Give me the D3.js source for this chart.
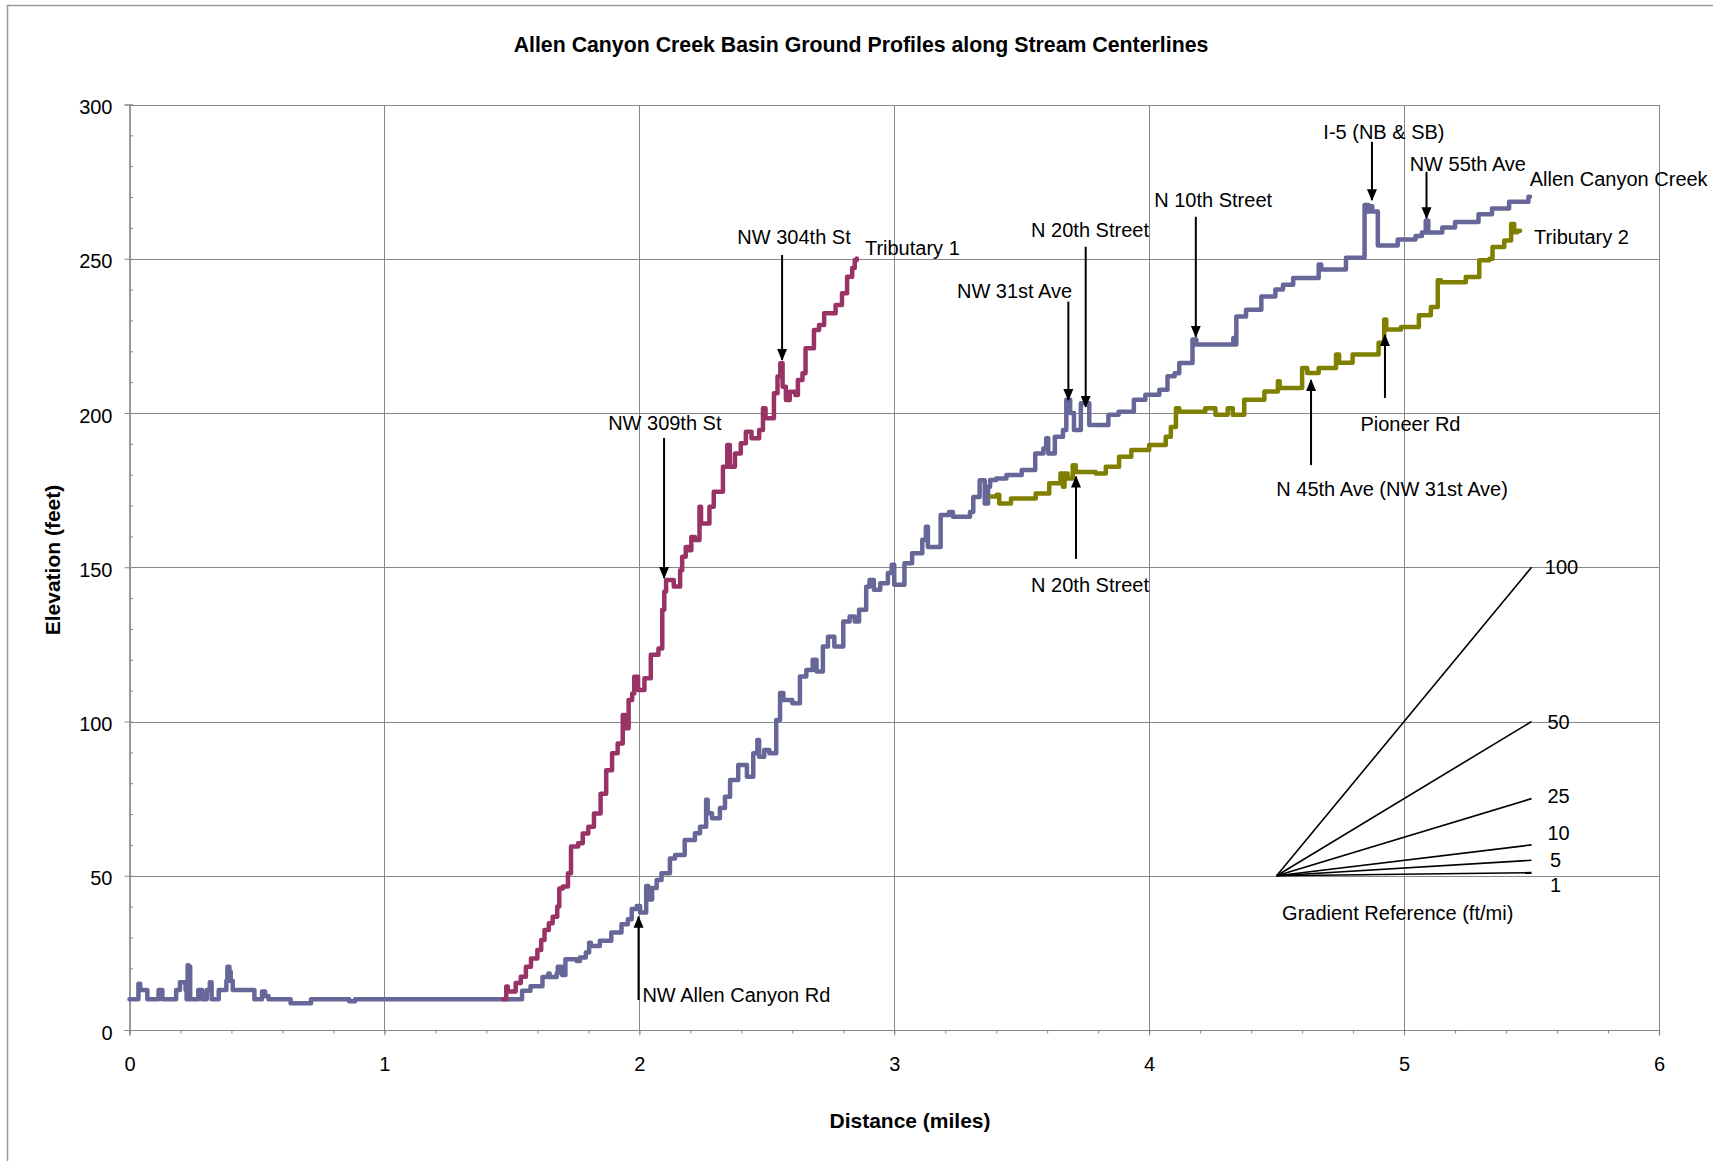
<!DOCTYPE html>
<html>
<head>
<meta charset="utf-8">
<script src="https://cdn.jsdelivr.net/npm/d3@7"></script>
<style>
  body { margin: 0; background: #fff; }
  svg { display: block; font-family: "Liberation Sans", Arial, sans-serif; }
</style>
</head>
<body>
<svg id="chart" width="1713" height="1161"></svg>
<script>
// ---- data (miles, feet); each point starts a step ----
var allenCanyon = [
  [0,10],[0.035,15],[0.042,13],[0.07,10],[0.114,13],[0.129,10],[0.183,13],[0.198,15.5],[0.22,13],[0.224,10],
  [0.228,21],[0.232,19],[0.235,20.5],[0.238,10],[0.27,13],[0.285,10],[0.303,13],[0.315,15.5],[0.322,10],
  [0.35,13],[0.38,16],[0.384,20.5],[0.392,19],[0.397,16],[0.405,13],[0.49,10],[0.52,12.5],[0.532,11],[0.545,10],
  [0.632,8.7],[0.712,10],[0.862,9.3],[0.885,10],
  [1.54,12.7],[1.573,14.2],[1.62,17.2],[1.643,18.3],[1.648,17.2],[1.676,18.3],[1.68,20.5],[1.697,17.8],[1.71,22.9],
  [1.754,22.4],[1.767,23.5],[1.79,25.1],[1.803,28.3],[1.81,27.2],[1.845,28.9],[1.89,31.6],[1.93,34.3],[1.955,35.9],
  [1.97,39.2],[1.99,40.2],[2.003,38.1],[2.027,46.7],[2.035,42.3],[2.05,46],[2.068,48.6],[2.087,50.8],[2.12,55.6],
  [2.14,56.7],[2.178,61.6],[2.218,63.8],[2.238,65.9],[2.262,74.6],[2.268,70.3],[2.285,68.6],[2.316,72],[2.336,75.6],
  [2.356,81],[2.388,85.9],[2.422,82.1],[2.447,89.7],[2.463,94],[2.47,88.6],[2.49,90.8],[2.51,89.7],[2.537,100.5],
  [2.552,109.2],[2.565,107],[2.6,105.9],[2.63,114.6],[2.655,116.7],[2.68,120],[2.695,116.2],[2.72,124.3],[2.74,127.5],
  [2.765,124.3],[2.8,132.4],[2.825,134],[2.845,132.4],[2.862,136.2],[2.89,143.7],[2.903,145.9],[2.92,142.7],
  [2.945,144.8],[2.975,148.1],[2.99,150.8],[3.0,144.3],[3.04,151.3],[3.07,154.5],[3.11,158.9],[3.124,163.1],
  [3.132,156.6],[3.182,166.9],[3.215,167.9],[3.23,166.4],[3.297,167.9],[3.31,172.8],[3.335,178.2],[3.355,170.7],
  [3.368,176.1],[3.376,178.3],[3.4,178.8],[3.44,179.9],[3.5,181.5],[3.553,186.9],[3.585,188.5],[3.596,191.8],
  [3.604,186.9],[3.63,192.3],[3.662,194.5],[3.675,204.3],[3.69,200],[3.705,194.5],[3.732,203.2],[3.765,196.1],
  [3.84,199.4],[3.88,200.4],[3.94,204.3],[3.985,205.9],[4.04,207.5],[4.072,211.9],[4.1,212.9],[4.118,216.2],
  [4.17,223.8],[4.185,222.2],[4.33,224.3],[4.336,222.2],[4.342,231.3],[4.38,233.5],[4.44,237.8],[4.495,240],
  [4.525,241.6],[4.565,243.8],[4.665,248.1],[4.675,246.5],[4.772,250.3],[4.845,267.4],[4.86,265.3],[4.867,267],
  [4.875,265.3],[4.897,254.3],[4.975,256.2],[5.045,257.4],[5.07,258.5],[5.085,262.3],[5.095,258.5],[5.15,260.1],
  [5.2,261.9],[5.292,264.4],[5.345,266.3],[5.412,268.5],[5.488,270.1],[5.494,270.1]
];

var tributary1 = [
  [1.467,10],[1.478,14.1],[1.484,12.5],[1.515,15.2],[1.535,17.3],[1.555,20.5],[1.575,23.2],[1.6,25.9],[1.615,29.2],
  [1.628,32.4],[1.645,34.6],[1.66,36.7],[1.678,40],[1.686,45.9],[1.7,46.5],[1.72,50.8],[1.732,59.5],[1.76,60.5],
  [1.778,63.7],[1.8,65.9],[1.822,70.2],[1.848,76.6],[1.87,84.2],[1.893,89.7],[1.915,92.9],[1.935,102.1],[1.945,97.8],
  [1.958,107],[1.972,109.1],[1.98,114.5],[1.995,110.2],[2.02,114],[2.045,121.6],[2.075,123.7],[2.09,136.2],
  [2.098,142.1],[2.105,145.9],[2.135,143.8],[2.16,149],[2.168,153.4],[2.182,156.6],[2.195,155.5],[2.204,159.8],
  [2.218,158.8],[2.236,169.6],[2.242,164.2],[2.275,169.6],[2.292,174.5],[2.328,182.6],[2.345,189.6],[2.355,182.6],
  [2.375,186.9],[2.398,190.2],[2.418,193.9],[2.44,191.8],[2.47,194.5],[2.485,201.5],[2.495,198.3],[2.528,206.4],
  [2.542,211.8],[2.553,216.1],[2.562,208.5],[2.575,204.2],[2.59,206.9],[2.612,205.8],[2.622,210.7],[2.64,212.9],
  [2.652,221],[2.685,226.9],[2.705,228.5],[2.725,232.3],[2.77,235],[2.795,238.8],[2.815,244.2],[2.835,247],
  [2.845,249.6],[2.853,250.1]
];

var tributary2 = [
  [3.38,172.9],[3.402,173.5],[3.412,170.7],[3.458,172.3],[3.555,173.9],[3.608,177.2],[3.652,180.4],[3.662,176.1],
  [3.668,180.4],[3.68,178.8],[3.7,183.1],[3.712,180.9],[3.79,180.4],[3.83,182.6],[3.882,185.8],[3.93,188],
  [4.0,189.6],[4.065,192.3],[4.085,195.5],[4.105,201.5],[4.118,200.4],[4.22,201.5],[4.26,199.4],[4.308,201.5],
  [4.328,199.4],[4.373,204.3],[4.452,207],[4.505,210.3],[4.512,208.1],[4.6,214.6],[4.62,213],[4.665,214.6],
  [4.733,219],[4.745,216.3],[4.798,219],[4.9,222.8],[4.922,230.3],[4.93,227.1],[4.988,227.9],[5.058,231.7],
  [5.105,234.4],[5.132,243],[5.145,242.4],[5.242,244.1],[5.295,249.5],[5.335,250],[5.347,253.8],[5.393,255.9],
  [5.42,261.3],[5.432,258.6],[5.445,259.1],[5.455,259.1]
];

var xTicks = [0,1,2,3,4,5,6];
var yTicks = [0,50,100,150,200,250,300];

// gradient reference fan: ft per mile, drawn from (4.5 mi, 50 ft) to 5.5 mi
var gradients = [1,5,10,25,50,100];
var gradientOrigin = [4.5,50];

// street annotations: label, arrow mile, arrow tip elev, arrow tail elev, label mile, label elev
var roads = ["NW Allen Canyon Rd","NW 309th St","NW 304th St","NW 31st Ave","N 20th Street","N 10th Street",
             "I-5 (NB & SB)","NW 55th Ave","Pioneer Rd","N 45th Ave (NW 31st Ave)","N 20th Street"];
var roadMile  = [1.997,2.097,2.56,3.683,3.751,4.183,4.874,5.088,4.925,4.635,3.713];
var roadTip   = [36.7,146.5,217.2,204.2,202,224.7,269,263.1,225.3,210.7,179.4];
var roadTail  = [9.7,191.9,251.2,236.1,253.9,263.6,287.9,278.2,204.9,183.1,152.7];
var roadLabelMile = [2.012,2.1,2.607,3.472,3.768,4.251,4.921,5.25,5.025,4.953,3.768];
var roadLabelElev = [11.3,196.8,257,239.6,259.3,269,291.2,280.7,196.4,175.4,144.4];

var seriesNames = ["Allen Canyon Creek","Tributary 1","Tributary 2"];
var seriesLabelMile = [5.493,2.885,5.51];
var seriesLabelElev = [275.8,253.5,256.9];

// ---- drawing ----
var svg = d3.select("#chart");
var W = 1713, H = 1161;
var plotLeft = 129.5, plotRight = 1659, plotTop = 104.5, plotBottom = 1030;
var grid = "#878787";

var x = d3.scaleLinear().domain([0,6]).range([plotLeft,plotRight]);
var y = d3.scaleLinear().domain([0,300]).range([plotBottom,plotTop]);

svg.append("rect").attr("width",W).attr("height",H).attr("fill","#fff");
// outer chart border (cut off at right/bottom)
svg.append("rect").attr("x",7.5).attr("y",5.5).attr("width",W+50).attr("height",H+50)
   .attr("fill","none").attr("stroke","#9a9a9a").attr("stroke-width",1.5);

var defs = svg.append("defs");
defs.append("marker").attr("id","arrowhead")
  .attr("markerUnits","userSpaceOnUse").attr("markerWidth",12).attr("markerHeight",12)
  .attr("viewBox","0 0 12 12").attr("refX",11).attr("refY",6).attr("orient","auto")
  .append("path").attr("d","M0,1 L12,6 L0,11 Z").attr("fill","#000");

// gridlines
var gridG = svg.append("g").attr("shape-rendering","crispEdges");
gridG.selectAll("line.h").data(yTicks.filter(function(d){return d>0;})).enter().append("line")
  .attr("x1",plotLeft).attr("x2",plotRight)
  .attr("y1",function(d){return Math.round(y(d))+0.5;}).attr("y2",function(d){return Math.round(y(d))+0.5;})
  .attr("stroke",grid).attr("stroke-width",1);
gridG.selectAll("line.v").data(xTicks.filter(function(d){return d>0;})).enter().append("line")
  .attr("y1",plotTop).attr("y2",plotBottom)
  .attr("x1",function(d){return Math.round(x(d))+0.5;}).attr("x2",function(d){return Math.round(x(d))+0.5;})
  .attr("stroke",grid).attr("stroke-width",1);

// axes
var yAxis = svg.append("g").attr("transform","translate("+plotLeft+",0)")
  .call(d3.axisLeft(y).tickValues(yTicks).tickSize(5).tickPadding(12));
var yMinor = svg.append("g").attr("transform","translate("+plotLeft+",0)")
  .call(d3.axisRight(y).tickValues(d3.range(0,301,10)).tickSize(3.5).tickFormat(""));
var xAxis = svg.append("g").attr("transform","translate(0,"+plotBottom+")")
  .call(d3.axisBottom(x).tickValues(xTicks).tickSize(5.5).tickPadding(21).tickFormat(d3.format("d")));
var xMinor = svg.append("g").attr("transform","translate(0,"+plotBottom+")")
  .call(d3.axisBottom(x).tickValues(d3.range(0,31).map(function(i){return i*0.2;})).tickSize(3.5).tickFormat(""));

[yAxis,yMinor,xAxis,xMinor].forEach(function(g){
  g.selectAll("path.domain").attr("stroke",grid).attr("stroke-width",1.2);
  g.selectAll(".tick line").attr("stroke",grid).attr("stroke-width",1);
  g.selectAll("text").attr("font-size",20).attr("fill","#000")
    .attr("font-family","'Liberation Sans', Arial, sans-serif");
});
yAxis.selectAll("text").attr("dy","0.46em");

// gradient reference fan
var fan = svg.append("g");
fan.selectAll("line").data(gradients).enter().append("line")
  .attr("x1",x(gradientOrigin[0])).attr("y1",y(gradientOrigin[1]))
  .attr("x2",x(gradientOrigin[0]+1)).attr("y2",function(d){return y(gradientOrigin[1]+d);})
  .attr("stroke","#000").attr("stroke-width",1.6);
var fanLabelNudge = {1:-4, 5:0, 10:4, 25:1, 50:0, 100:0};
fan.selectAll("text").data(gradients).enter().append("text")
  .attr("x",function(d){return x(gradientOrigin[0]+1)+ (d>=100?30:(d>=10?27:24));})
  .attr("y",function(d){return y(gradientOrigin[1]+d+fanLabelNudge[d])+7;})
  .attr("text-anchor","middle").attr("font-size",20).text(function(d){return d;});
fan.append("text").attr("x",x(4.975)).attr("y",y(37.9)+7).attr("text-anchor","middle")
  .attr("font-size",20).text("Gradient Reference (ft/mi)");

// profiles
var line = d3.line().x(function(d){return x(d[0]);}).y(function(d){return y(d[1]);}).curve(d3.curveStepAfter);
var profiles = [
  {data: allenCanyon, color: "#666699"},
  {data: tributary1, color: "#993366"},
  {data: tributary2, color: "#808000"}
];
svg.append("g").selectAll("path").data(profiles).enter().append("path")
  .attr("d",function(d){return line(d.data);})
  .attr("fill","none").attr("stroke",function(d){return d.color;})
  .attr("stroke-width",4.5).attr("stroke-linejoin","round").attr("stroke-linecap","round");

// road arrows and labels
var ann = svg.append("g");
roads.forEach(function(name,i){
  ann.append("line")
    .attr("x1",x(roadMile[i])).attr("x2",x(roadMile[i]))
    .attr("y1",y(roadTail[i])).attr("y2",y(roadTip[i]))
    .attr("stroke","#000").attr("stroke-width",2).attr("marker-end","url(#arrowhead)");
  ann.append("text")
    .attr("x",x(roadLabelMile[i])).attr("y",y(roadLabelElev[i])+7)
    .attr("text-anchor", i===0 ? "start" : "middle")
    .attr("font-size",20).text(name);
});
seriesNames.forEach(function(name,i){
  ann.append("text").attr("x",x(seriesLabelMile[i])).attr("y",y(seriesLabelElev[i])+7)
    .attr("font-size",20).text(name);
});

// titles
svg.append("text").attr("x",861).attr("y",52).attr("text-anchor","middle")
  .attr("font-size",21.3).attr("font-weight","bold").text("Allen Canyon Creek Basin Ground Profiles along Stream Centerlines");
svg.append("text").attr("x",910).attr("y",1128).attr("text-anchor","middle")
  .attr("font-size",21).attr("font-weight","bold").text("Distance (miles)");
svg.append("text").attr("transform","translate(60,560) rotate(-90)").attr("text-anchor","middle")
  .attr("font-size",21).attr("font-weight","bold").text("Elevation (feet)");
</script>
</body>
</html>
